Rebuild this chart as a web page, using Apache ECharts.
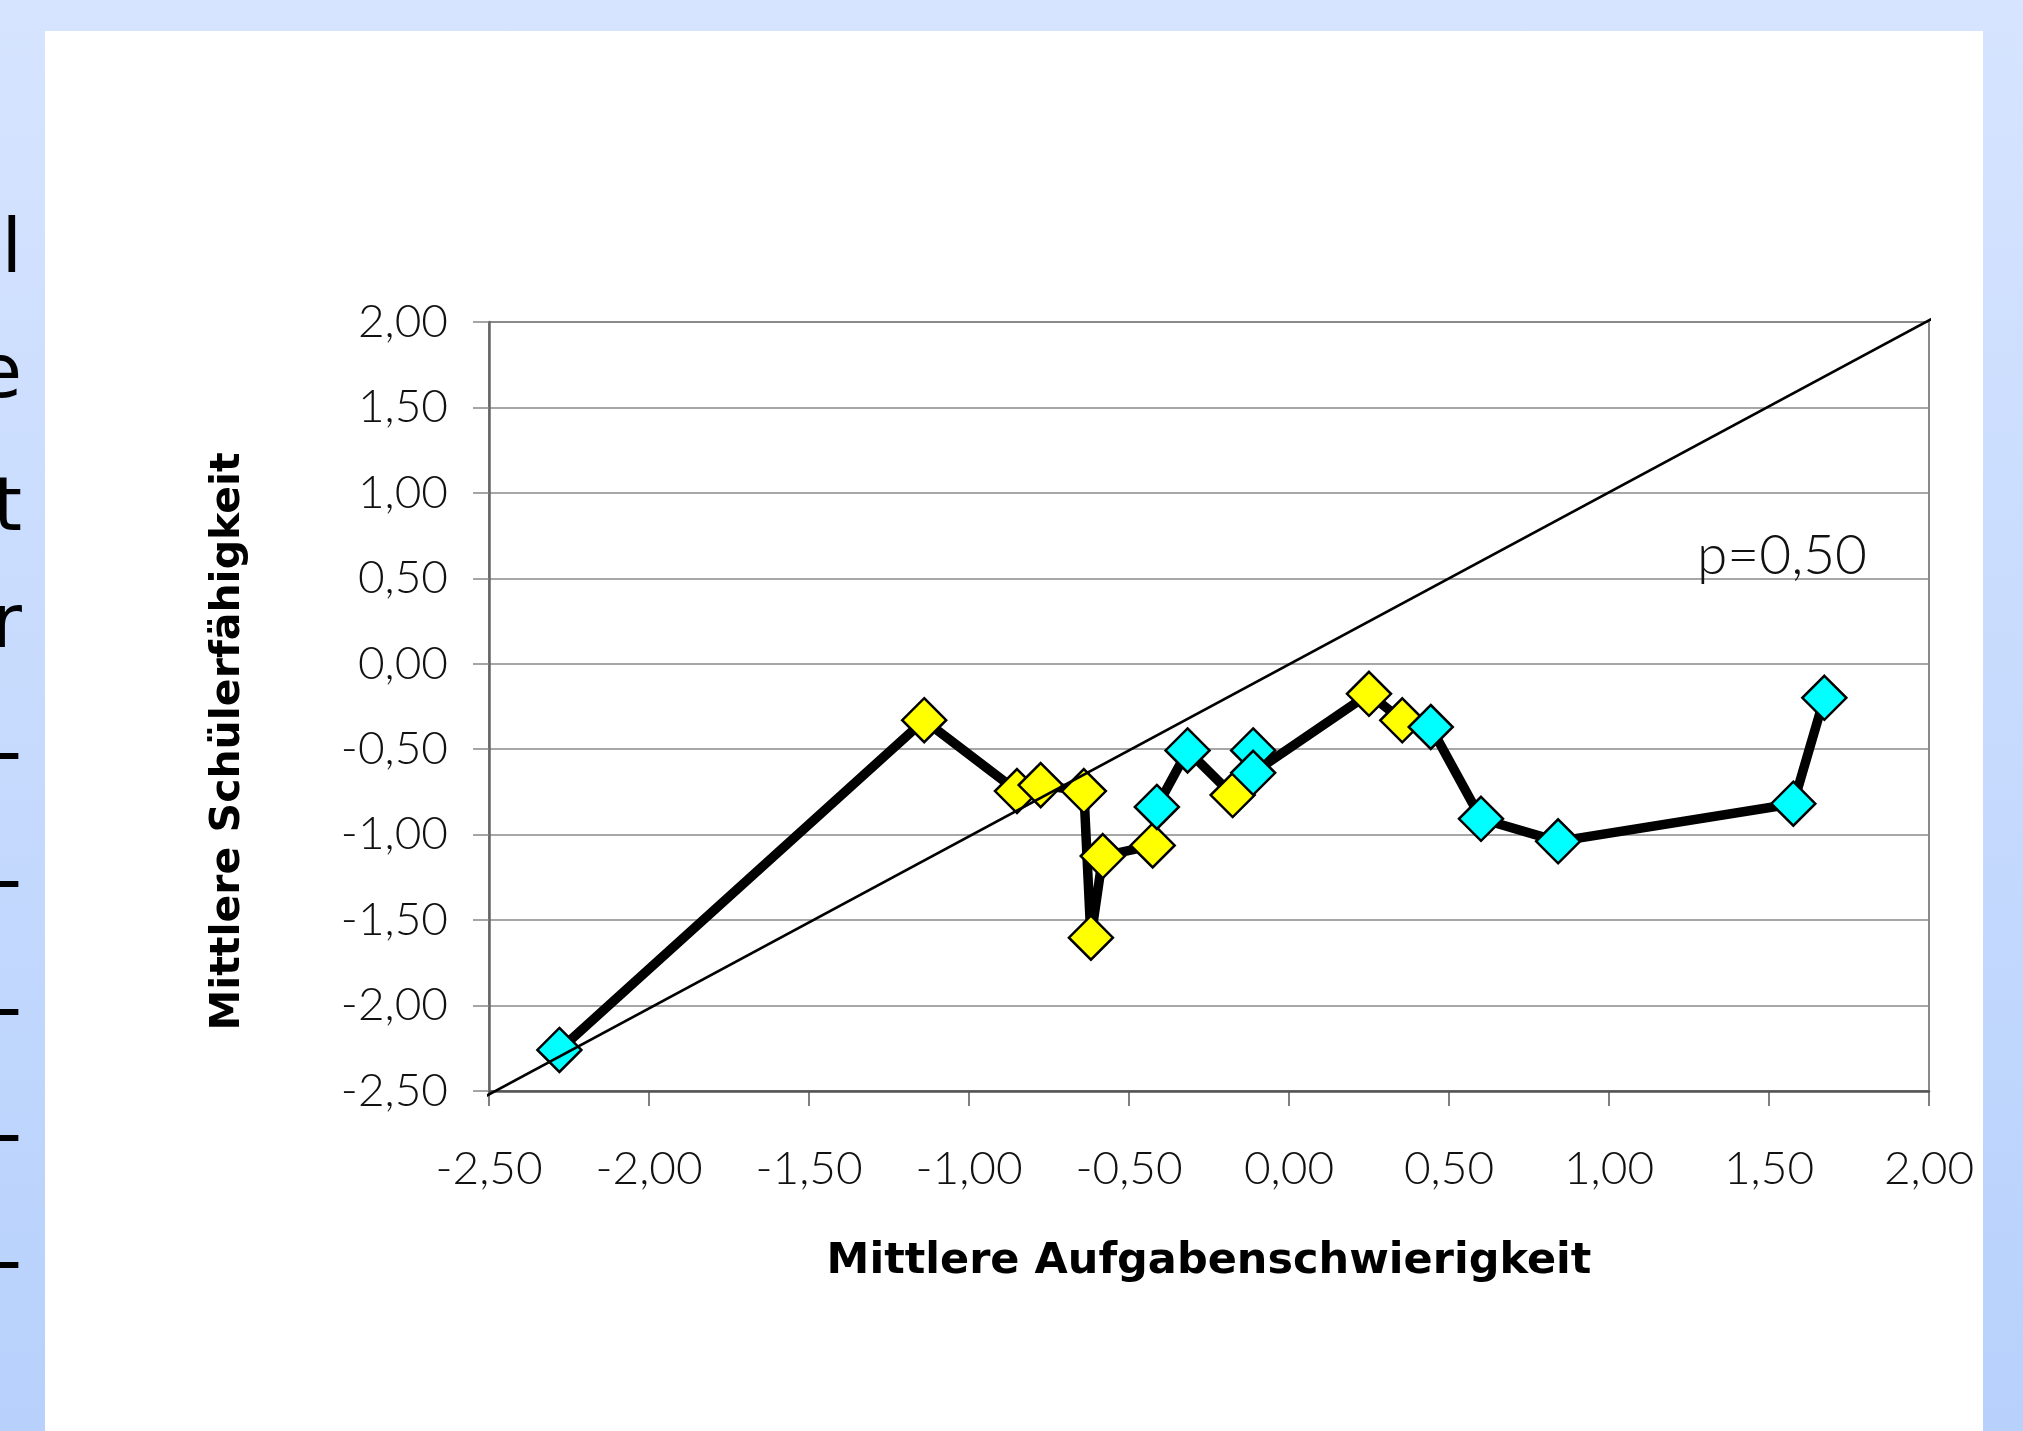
<!DOCTYPE html>
<html>
<head>
<meta charset="utf-8">
<script src="https://cdn.jsdelivr.net/npm/echarts@6/dist/echarts.min.js"></script>
<style>
html,body{margin:0;padding:0;width:2023px;height:1431px;overflow:hidden;
background:linear-gradient(to bottom,#d6e4ff 0%,#b7d1fc 100%);}
#panel{position:absolute;left:45px;top:31px;width:1938px;height:1400px;background:#fff;}
#chart{position:absolute;left:0;top:0;width:2023px;height:1431px;}
</style>
</head>
<body>
<div id="panel"></div>
<div id="chart"></div>
<script>
// Data
const xValues = [-2.28, -1.14, -0.85, -0.776, -0.641, -0.619, -0.582, -0.426, -0.413, -0.317, -0.176, -0.112, -0.112, 0.25, 0.354, 0.443, 0.600, 0.841, 1.576, 1.673];
const yValues = [-2.26, -0.33, -0.745, -0.71, -0.745, -1.603, -1.125, -1.063, -0.838, -0.507, -0.768, -0.507, -0.638, -0.176, -0.331, -0.370, -0.907, -1.039, -0.819, -0.199];
const groups  = ['C','Y','Y','Y','Y','Y','Y','Y','C','C','Y','C','C','Y','Y','C','C','C','C','C'];
const groupColors = { C: '#00ffff', Y: '#ffff00' };
const refLineX = [-2.53, 2.02];
const refLineY = [-2.55, 2.03];
const refLabel = 'p=0,50';
const xTitle = 'Mittlere Aufgabenschwierigkeit';
const yTitle = 'Mittlere Schülerfähigkeit';
const sideLetters = ['l', 'e', 't', 'r', '-', '-', '-', '-', '-'];
const sideLetterY = [253, 378, 511, 628, 758, 886, 1014, 1140, 1267];

const fmt = v => v.toFixed(2).replace('.', ',');
const tickFont = { fontFamily: 'Lato, "Liberation Sans", sans-serif', fontWeight: 300, fontSize: 46, color: '#111' };

const chart = echarts.init(document.getElementById('chart'), null, { renderer: 'canvas' });

const mainData = xValues.map((x, i) => ({
  value: [x, yValues[i]],
  itemStyle: { color: groupColors[groups[i]], borderColor: '#000', borderWidth: 2.5 }
}));

const option = {
  animation: false,
  backgroundColor: 'transparent',
  grid: { left: 489, top: 322, width: 1440, height: 769, show: true, borderColor: '#8a8a8a', borderWidth: 2, backgroundColor: 'transparent' },
  xAxis: {
    type: 'value', min: -2.5, max: 2.0, interval: 0.5,
    axisLine: { show: true, onZero: false, lineStyle: { color: '#555', width: 2.5 } },
    axisTick: { show: true, inside: false, length: 15, lineStyle: { color: '#555', width: 1.5 } },
    splitLine: { show: false },
    axisLabel: Object.assign({ margin: 55, formatter: fmt }, tickFont),
    name: xTitle, nameLocation: 'middle', nameGap: 149,
    nameTextStyle: { fontFamily: '"DejaVu Sans", sans-serif', fontWeight: 'bold', fontSize: 43, color: '#000' }
  },
  yAxis: {
    type: 'value', min: -2.5, max: 2.0, interval: 0.5,
    axisLine: { show: true, onZero: false, lineStyle: { color: '#666', width: 2.5 } },
    axisTick: { show: true, inside: false, length: 16, lineStyle: { color: '#888', width: 1.5 } },
    splitLine: { show: true, lineStyle: { color: '#8a8a8a', width: 1.5 } },
    axisLabel: Object.assign({ margin: 41, formatter: fmt }, tickFont),
    name: yTitle, nameLocation: 'middle', nameGap: 240, nameRotate: 90,
    nameTextStyle: { fontFamily: '"DejaVu Sans", sans-serif', fontWeight: 'bold', fontSize: 41, color: '#000', padding: [0, 70, 0, 0] }
  },
  series: [
    {
      type: 'line', data: mainData, symbol: 'diamond', symbolSize: 44, showAllSymbol: true,
      lineStyle: { color: '#000', width: 9.5, join: 'round' }, z: 2
    },
    {
      type: 'line', data: refLineX.map((x, i) => [x, refLineY[i]]), symbol: 'none', clip: false,
      lineStyle: { color: '#000', width: 2.5 }, z: 5, silent: true
    }
  ]
};
chart.setOption(option);

const labelPos = chart.convertToPixel({ gridIndex: 0 }, [1.55, 0.60]);
const graphics = [{
  type: 'text', left: labelPos[0] - 88, top: labelPos[1] - 32, z: 10,
  style: { text: refLabel, fontFamily: 'Lato, "Liberation Sans", sans-serif', fontWeight: 300, fontSize: 55, fill: '#111' }
}];
sideLetters.forEach((ch, i) => {
  graphics.push({
    type: 'text', z: 10,
    style: { text: ch, x: 22, y: sideLetterY[i], align: 'right', verticalAlign: 'middle',
      fontFamily: '"DejaVu Sans", sans-serif', fontSize: 74, fill: '#000' }
  });
});
chart.setOption({ graphic: graphics });
</script>
</body>
</html>
